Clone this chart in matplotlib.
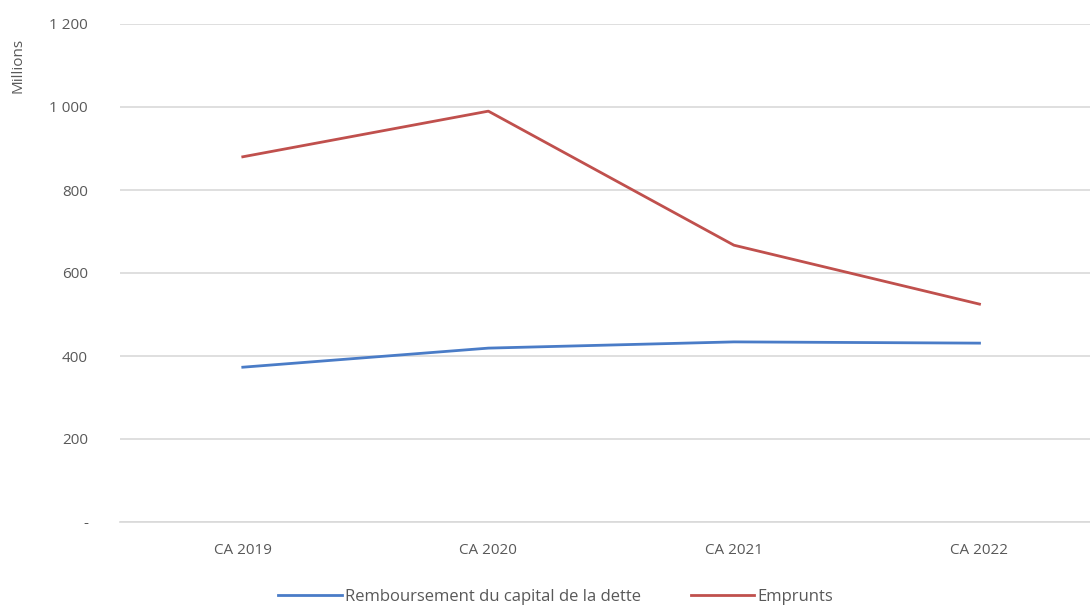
import matplotlib
matplotlib.use('Agg')
import matplotlib.pyplot as plt
from matplotlib.ticker import FuncFormatter

categories = ['CA 2019', 'CA 2020', 'CA 2021', 'CA 2022']
remboursement = [373, 419, 434, 431]
emprunts = [880, 990, 667, 525]

plt.rcParams['font.family'] = ['Open Sans', 'DejaVu Sans']

fig = plt.figure(figsize=(10.9, 6.07), dpi=100)
ax = fig.add_axes([120/1090, 1 - 522/607, 1 - 120/1090, (522 - 24)/607])

x = range(len(categories))
ax.plot(x, remboursement, color='#4a7cc7', lw=2, label='Remboursement du capital de la dette')
ax.plot(x, emprunts, color='#c0504d', lw=2, label='Emprunts')

ax.set_xlim(-0.5, 3.45)
ax.set_ylim(0, 1200)
ax.set_yticks(range(0, 1201, 200))

def fmt(v, pos):
    if v == 0:
        return '-'
    return f'{int(v):,}'.replace(',', ' ')

ax.yaxis.set_major_formatter(FuncFormatter(fmt))
ax.set_xticks(list(x))
ax.set_xticklabels(categories)

ax.grid(axis='y', color='#d9d9d9', lw=1.2)
ax.set_axisbelow(True)
for s in ['top', 'right', 'left']:
    ax.spines[s].set_visible(False)
ax.spines['bottom'].set_color('#d9d9d9')
ax.spines['bottom'].set_linewidth(1.2)
ax.tick_params(axis='both', length=0, colors='#595959', labelsize=11)
ax.tick_params(axis='y', pad=23)
ax.tick_params(axis='x', pad=15)

fig.text(18/1090, 1 - 65/607, 'Millions', rotation=90, ha='center', va='center',
         fontsize=11, color='#595959')

fig.legend(loc='center', bbox_to_anchor=(556/1090, 1 - 597/607), ncol=2, frameon=False,
           fontsize=12, labelcolor='#595959', handlelength=3.8, columnspacing=3,
           handletextpad=0.2)

plt.savefig('out.png', dpi=100)
